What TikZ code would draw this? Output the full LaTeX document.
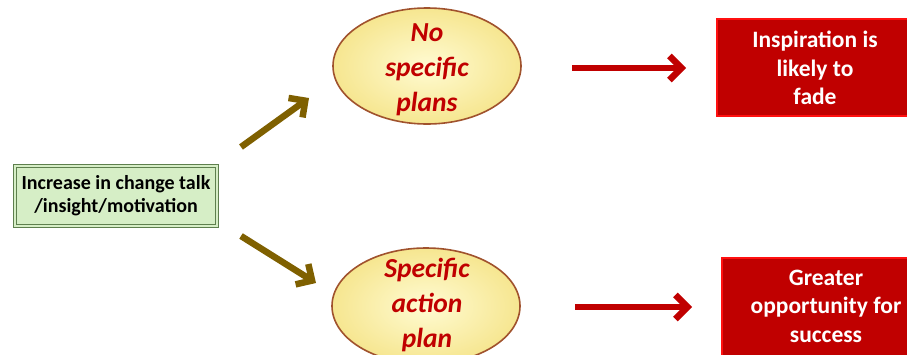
\documentclass[tikz,border=0pt]{standalone}
\usepackage{fontspec}
\setmainfont{Carlito}
\usetikzlibrary{shapes.geometric,arrows.meta}
\definecolor{boxgreen}{HTML}{D6EEC6}
\definecolor{boxgreenline}{HTML}{5E7F4E}
\definecolor{ellfillin}{HTML}{FFFBD2}
\definecolor{ellfillout}{HTML}{F6E690}
\definecolor{ellline}{HTML}{A0522D}
\definecolor{darkred}{HTML}{C00000}
\definecolor{brightred}{HTML}{FF1010}
\definecolor{olivebrown}{HTML}{7F6000}
\tikzset{
  greenbox/.style={draw=boxgreenline, line width=0.8pt, double=boxgreen, double distance=2.2pt,
    fill=boxgreen, minimum width=202pt, minimum height=60pt, align=center,
    font=\bfseries\fontsize{20}{23}\selectfont, inner sep=0pt},
  ellbox/.style={ellipse, draw=ellline, line width=1.6pt, shading=radial,
    inner color=ellfillin, outer color=ellfillout, minimum width=188pt, minimum height=116pt,
    inner sep=0pt},
  elltext/.style={align=center, text=darkred, font=\bfseries\itshape\fontsize{27.5}{35}\selectfont},
  redbox/.style={draw=brightred, line width=1.6pt, fill=darkred},
  redtext/.style={text=white, align=center, font=\bfseries\fontsize{23.5}{28.5}\selectfont, inner sep=0pt},
  brownarrow/.style={draw=olivebrown, line width=6.5pt, -{Straight Barb[length=12pt,width=24pt]}},
  redarrow/.style={draw=darkred, line width=6.5pt, -{Straight Barb[length=12pt,width=24pt]}}
}
\begin{document}
\begin{tikzpicture}[x=1pt,y=-1pt]
\useasboundingbox (0,0) rectangle (907,354);
\node[greenbox] (in1) at (116,196) {Increase in change talk\\/insight/motivation};
\node[ellbox] (e1) at (427,66) {};
\node[elltext] (t1) at (427,70) {No\\specific\\plans};
\node[ellbox] (e2) at (426,306) {};
\node[elltext] (t2) at (427,305) {Specific\\action\\plan};
\path[redbox] (717,19) rectangle (915,116);
\node[redtext] (r1) at (815,68) {Inspiration is\\likely to\\fade};
\path[redbox] (722,258) rectangle (915,365);
\node[redtext] (r2) at (826,306) {Greater\\opportunity for\\success};
\coordinate (a1s) at (241,147);
\coordinate (a1e) at (309,98);
\coordinate (a2s) at (241,236);
\coordinate (a2e) at (316,283);
\coordinate (b1s) at (572,68);
\coordinate (b1e) at (686,68);
\coordinate (b2s) at (575,307);
\coordinate (b2e) at (692,307);
\draw[brownarrow] (a1s) -- (a1e);
\draw[brownarrow] (a2s) -- (a2e);
\draw[redarrow] (b1s) -- (b1e);
\draw[redarrow] (b2s) -- (b2e);
\end{tikzpicture}
\end{document}
